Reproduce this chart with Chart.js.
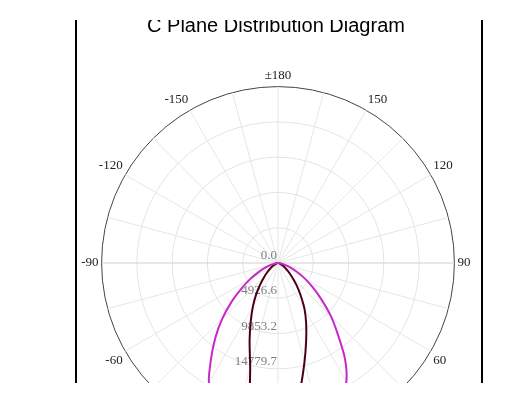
<!DOCTYPE html>
<html>
<head>
<meta charset="utf-8">
<script src="https://cdn.jsdelivr.net/npm/chart.js@4"></script>
<style>
  body { margin: 0; background: #fff; }
  #frame {
    position: absolute; left: 75px; top: 20px; width: 408px; height: 363px;
    box-sizing: border-box; border-left: 2px solid #000; border-right: 2px solid #000;
    overflow: hidden; background: #fff;
  }
  #chart { position: absolute; left: 0; top: -6px; }
</style>
</head>
<body>
<div id="frame"><canvas id="chart" width="398" height="445"></canvas></div>
<script>
// gamma angles for the half planes (deg from nadir)
const gammaSteps = [0, 5, 10, 15, 20, 25, 30, 35, 40, 45, 50, 55, 60, 65, 70, 75, 80, 85, 90];

// C0-180 plane (magenta), candela
const c0Right = [24600, 24500, 24100, 23300, 22200, 20800, 19100, 16300, 13000, 10400, 7900, 5900, 4300, 2900, 1800, 1000, 450, 150, 30];
const c0Left  = [24600, 24500, 24100, 23300, 22200, 20900, 19300, 16300, 13600, 11000, 8500, 6200, 4500, 3000, 1900, 1050, 480, 160, 30];

// C90-270 plane (dark red), candela
const c90Right = [24600, 22500, 17900, 14300, 11500, 9300, 7400, 5500, 4000, 2800, 1950, 1300, 850, 550, 330, 180, 80, 30, 0];
const c90Left  = [24600, 24000, 22000, 15000, 11600, 9000, 7000, 5300, 3800, 2700, 1900, 1300, 850, 550, 330, 180, 80, 30, 0];

// radial rings
const maxIntensity = 24632.9;
const ringStep = 4926.58;
const ringLabels = ['0.0', '4926.6', '9853.2', '14779.7', '19706.3', '24632.9'];

// angle categories, clockwise from the top (180) round to -175
const cAngles = [];
for (let a = 180; a > -180; a -= 5) cAngles.push(a);

function planeData(right, left) {
  return cAngles.map(a => {
    const g = Math.abs(a);
    if (g > 90) return 0;
    const i = gammaSteps.indexOf(g);
    return a >= 0 ? right[i] : left[i];
  });
}

const ringLabelPlugin = {
  id: 'ringLabels',
  beforeDatasetsDraw(chart) {
    const r = chart.scales.r;
    const ctx = chart.ctx;
    ctx.save();
    ctx.font = '13px "Liberation Serif"';
    ctx.fillStyle = '#808080';
    ctx.textAlign = 'right';
    ctx.textBaseline = 'alphabetic';
    r.ticks.forEach((t, i) => {
      if (!ringLabels[i]) return;
      const d = r.getDistanceFromCenterForValue(t.value);
      ctx.fillText(ringLabels[i], r.xCenter - 1, r.yCenter + d - 4);
    });
    ctx.restore();
  }
};

new Chart(document.getElementById('chart'), {
  type: 'radar',
  data: {
    labels: cAngles,
    datasets: [{
      label: 'C0-180',
      data: planeData(c0Right, c0Left),
      borderColor: '#c828c8',
      borderWidth: 2,
      fill: false,
      pointRadius: 0,
      tension: 0.25
    }, {
      label: 'C90-270',
      data: planeData(c90Right, c90Left),
      borderColor: '#4a0010',
      borderWidth: 2,
      fill: false,
      pointRadius: 0,
      tension: 0.25
    }]
  },
  options: {
    responsive: false,
    devicePixelRatio: 1,
    animation: false,
    layout: { padding: 0 },
    plugins: {
      legend: { display: false },
      tooltip: { enabled: false },
      title: {
        display: true,
        text: 'C Plane Distribution Diagram',
        color: '#000',
        font: { family: 'Liberation Sans', size: 20, weight: 'normal' },
        padding: { top: 0, bottom: 31 }
      }
    },
    scales: {
      r: {
        min: 0,
        max: maxIntensity,
        ticks: { stepSize: ringStep, display: false },
        grid: {
          circular: true,
          color: c => (c.tick && c.tick.value >= maxIntensity - 1 ? '#444' : '#e4e4e4'),
          lineWidth: 1
        },
        angleLines: {
          color: c => (c.index === 18 || c.index === 54 ? '#cfcfcf' : '#e6e6e6'),
          lineWidth: c => (c.index % 3 === 0 ? 1 : 0)
        },
        pointLabels: {
          padding: 3,
          color: '#222',
          font: { family: 'Liberation Serif', size: 13 },
          callback: v => (v % 30 === 0 ? (v === 180 ? '±180' : String(v)) : '')
        }
      }
    }
  },
  plugins: [ringLabelPlugin]
});
</script>
</body>
</html>
